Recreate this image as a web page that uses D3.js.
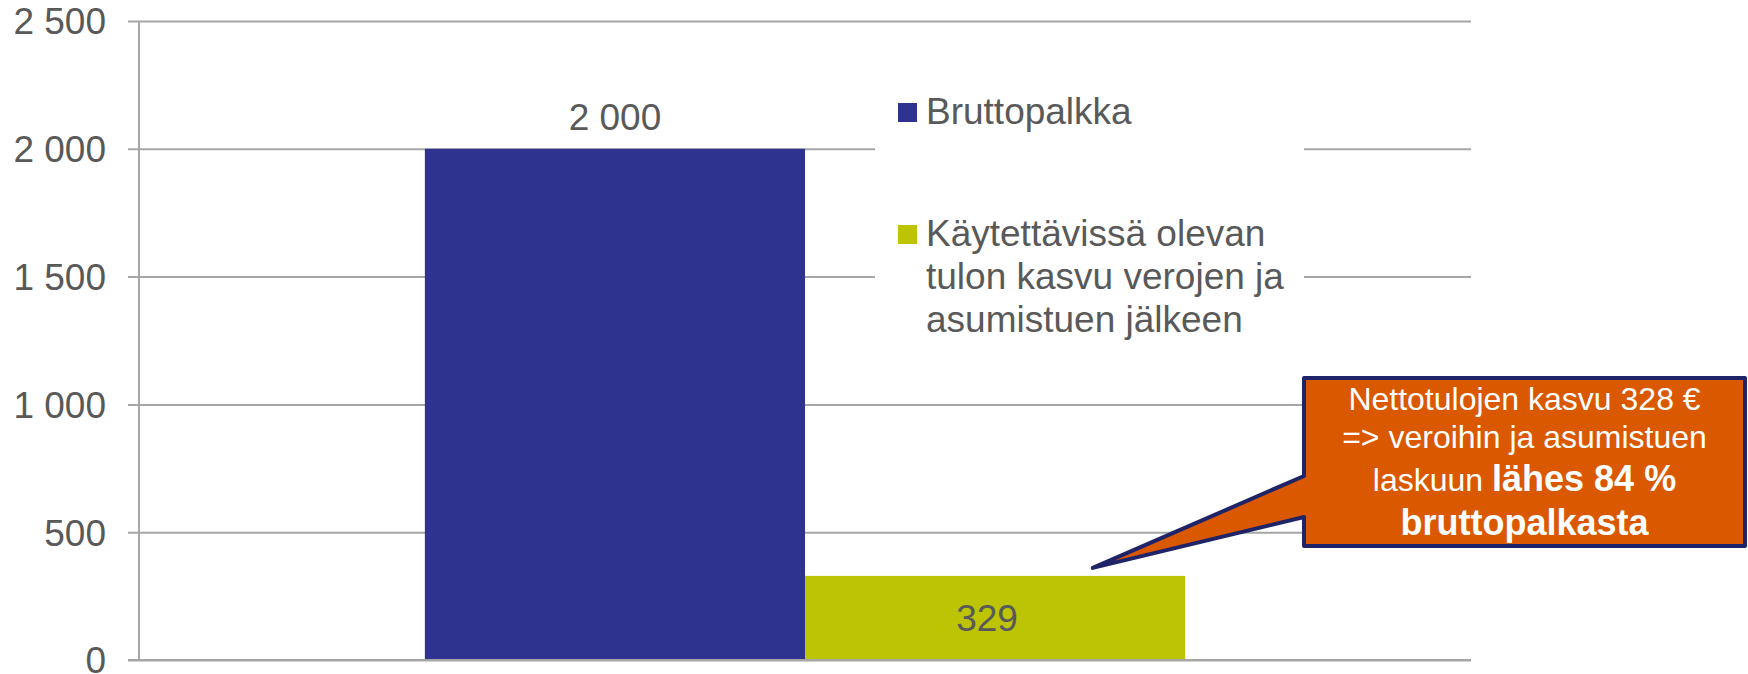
<!DOCTYPE html>
<html>
<head>
<meta charset="utf-8">
<script src="https://cdn.jsdelivr.net/npm/d3@7"></script>
<style>
  body { margin: 0; background: #fff; }
  svg { display: block; font-family: "Liberation Sans", Arial, sans-serif; }
</style>
</head>
<body>
<svg id="chart"></svg>
<script>
// Data
const categories = ["Palkka"];
const seriesNames = ["Bruttopalkka", "Käytettävissä olevan tulon kasvu verojen ja asumistuen jälkeen"];
const seriesValues = [2000, 329];
const seriesColors = ["#2E3390", "#BCC403"];
const yTicks = [0, 500, 1000, 1500, 2000, 2500];
const legendLines = [["Bruttopalkka"], ["Käytettävissä olevan", "tulon kasvu verojen ja", "asumistuen jälkeen"]];
const calloutLines = [
  [{t: "Nettotulojen kasvu 328 €", b: false}],
  [{t: "=> veroihin ja asumistuen", b: false}],
  [{t: "laskuun ", b: false}, {t: "lähes 84 %", b: true}],
  [{t: "bruttopalkasta", b: true}]
];

const w = 1748;
const h = 674;
const plotLeft = 139, plotRight = 1471, plotTop = 21, plotBottom = 660;
const textGrey = "#595959";
const gridGrey = "#A6A6A6";

const svg = d3.select("#chart").attr("width", w).attr("height", h);

// Scales
const yScale = d3.scaleLinear().domain([0, 2500]).range([plotBottom, plotTop]);
const xScale = d3.scaleBand().domain(categories).range([plotLeft, plotRight]).paddingInner(0).paddingOuter(0.376);
const xSeries = d3.scaleBand().domain(d3.range(seriesValues.length)).range([0, xScale.bandwidth()]).padding(0);

const fmt = d3.formatLocale({decimal: ",", thousands: " ", grouping: [3], currency: ["", " €"]}).format(",d");

// Gridlines + y axis
const yAxis = d3.axisLeft(yScale).tickValues(yTicks).tickFormat(fmt)
  .tickSize(-(plotRight - plotLeft)).tickPadding(33);
const gy = svg.append("g").attr("transform", `translate(${plotLeft},0)`).call(yAxis);
gy.select(".domain").remove();
gy.selectAll(".tick line").attr("stroke", gridGrey).attr("stroke-width", 2).attr("x1", -11);
gy.selectAll(".tick text").attr("fill", textGrey).attr("font-size", 37)
  .attr("font-family", "Liberation Sans, Arial, sans-serif").attr("dy", "0.35em");

// Bars
const cat = categories[0];
svg.append("g").selectAll("rect")
  .data(seriesValues)
  .join("rect")
  .attr("x", (d, i) => xScale(cat) + xSeries(i))
  .attr("y", d => yScale(d))
  .attr("width", xSeries.bandwidth())
  .attr("height", d => yScale(0) - yScale(d))
  .attr("fill", (d, i) => seriesColors[i]);

// Axis lines on top of bars
svg.append("line").attr("x1", plotLeft).attr("x2", plotLeft).attr("y1", plotTop).attr("y2", plotBottom)
  .attr("stroke", gridGrey).attr("stroke-width", 2);
svg.append("line").attr("x1", plotLeft - 11).attr("x2", plotRight).attr("y1", plotBottom).attr("y2", plotBottom)
  .attr("stroke", gridGrey).attr("stroke-width", 2);

// Value labels
svg.append("text")
  .attr("x", xScale(cat) + xSeries(0) + xSeries.bandwidth() / 2)
  .attr("y", yScale(seriesValues[0]) - 19)
  .attr("text-anchor", "middle").attr("fill", textGrey).attr("font-size", 37)
  .text(fmt(seriesValues[0]));
svg.append("text")
  .attr("x", xScale(cat) + xSeries(1) + xSeries.bandwidth() / 2 - 8)
  .attr("y", (yScale(seriesValues[1]) + yScale(0)) / 2)
  .attr("dy", "0.35em")
  .attr("text-anchor", "middle").attr("fill", textGrey).attr("font-size", 37)
  .text(fmt(seriesValues[1]));

// Legend (white box hides gridlines)
const legend = svg.append("g");
legend.append("rect").attr("x", 875).attr("y", 80).attr("width", 429).attr("height", 265).attr("fill", "#fff");
const legendY = [124, 246];
legendLines.forEach((lines, i) => {
  legend.append("rect").attr("x", 898).attr("y", legendY[i] - 21).attr("width", 19).attr("height", 19)
    .attr("fill", seriesColors[i]);
  const t = legend.append("text").attr("x", 926).attr("y", legendY[i])
    .attr("fill", textGrey).attr("font-size", 37);
  lines.forEach((ln, j) => {
    t.append("tspan").attr("x", 926).attr("dy", j === 0 ? 0 : 43).text(ln);
  });
});

// Callout
const tipX = xScale(cat) + xSeries(1) + xSeries.bandwidth() * 0.757;
const tipY = yScale(seriesValues[1]) - 8;
const bx0 = 1304, bx1 = 1745, by0 = 378, by1 = 546;
const calloutPath = d3.path();
calloutPath.moveTo(bx0, by0);
calloutPath.lineTo(bx1, by0);
calloutPath.lineTo(bx1, by1);
calloutPath.lineTo(bx0, by1);
calloutPath.lineTo(bx0, 517);
calloutPath.lineTo(tipX, tipY);
calloutPath.lineTo(bx0, 476);
calloutPath.closePath();
svg.append("path").attr("d", calloutPath.toString())
  .attr("fill", "#DA5800").attr("stroke", "#1F2468").attr("stroke-width", 4)
  .attr("stroke-linejoin", "round");

const cx = (bx0 + bx1) / 2;
const baseY = [410, 448, 491, 535];
calloutLines.forEach((parts, i) => {
  const t = svg.append("text").attr("x", cx).attr("y", baseY[i])
    .attr("text-anchor", "middle").attr("fill", "#fff");
  parts.forEach(p => {
    t.append("tspan").attr("font-size", p.b ? 36 : 32).attr("font-weight", p.b ? "bold" : "normal").text(p.t);
  });
});
</script>
</body>
</html>
